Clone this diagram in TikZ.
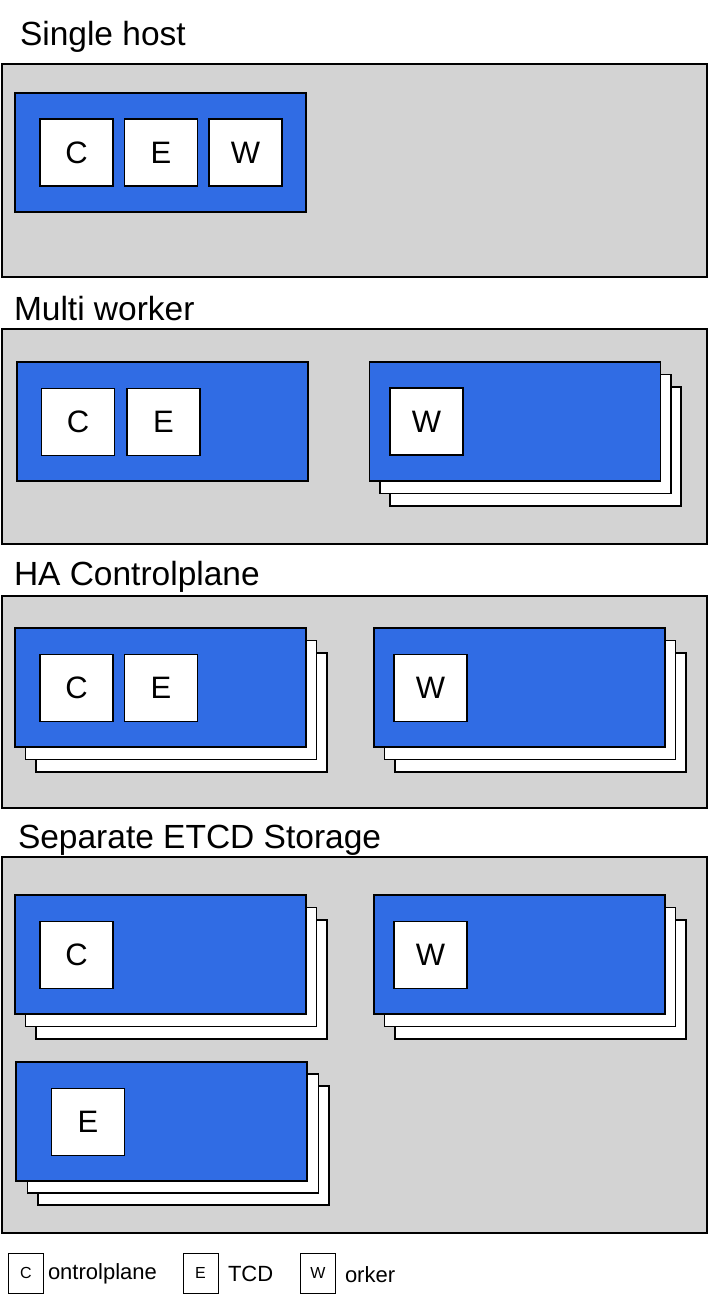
\documentclass[tikz,border=0pt]{standalone}
\usepackage{fontspec}
\setmainfont{Liberation Sans}
\definecolor{hostgray}{RGB}{211,211,211}
\definecolor{nodeblue}{RGB}{48,108,228}
\tikzset{
  every node/.style={inner sep=0pt, outer sep=0pt},
  hostbox/.style={draw=black, fill=hostgray, line width=1.2pt, anchor=north west},
  bluebox/.style={draw=black, fill=nodeblue, line width=1.2pt, anchor=north west, minimum width=291pt, minimum height=119pt},
  backbox/.style={draw=black, fill=white, line width=1.2pt, anchor=north west, minimum width=291pt, minimum height=119pt},
  compbox/.style={draw=black, fill=white, line width=1.2pt, minimum width=73pt, minimum height=67pt, font=\fontsize{31}{31}\selectfont},
  legbox/.style={draw=black, fill=white, line width=1pt, minimum width=35pt, minimum height=40pt, font=\fontsize{16}{16}\selectfont},
  title/.style={anchor=base west, font=\fontsize{33.5}{33.5}\selectfont},
  legtext/.style={anchor=base west, font=\fontsize{22}{22}\selectfont}
}
\begin{document}
\begin{tikzpicture}[x=1pt,y=-1pt]
\useasboundingbox (0,0) rectangle (708,1299);
% Section 1
\node[title] (t1) at (20,45) {Single host};
\node[hostbox, minimum width=705pt, minimum height=213pt] (h1) at (2,64) {};
\node[bluebox] (b1) at (15,93) {};
\node[compbox] (c1) at (76.5,152.5) {C};
\node[compbox] (e1) at (161,152.5) {E};
\node[compbox] (w1) at (245.5,152.5) {W};
% Section 2
\node[title] (t2) at (14,320) {Multi worker};
\node[hostbox, minimum width=705pt, minimum height=215pt] (h2) at (2,329) {};
\node[bluebox] (b2) at (17,362) {};
\node[compbox] (c2) at (78,422) {C};
\node[compbox] (e2) at (163.5,422) {E};
\node[backbox] (w2c) at (390,387) {};
\node[backbox] (w2b) at (380,374.5) {};
\node[bluebox] (w2a) at (369.5,362) {};
\node[compbox] (w2) at (426.5,421.5) {W};
% Section 3
\node[title] (t3) at (14,585) {HA Controlplane};
\node[hostbox, minimum width=705pt, minimum height=212pt] (h3) at (2,596) {};
\node[backbox] (b3c) at (36,653) {};
\node[backbox] (b3b) at (25.5,640.5) {};
\node[bluebox] (b3a) at (15,628) {};
\node[compbox] (c3) at (76.5,688) {C};
\node[compbox] (e3) at (161,688) {E};
\node[backbox] (w3c) at (395,653) {};
\node[backbox] (w3b) at (384.5,640.5) {};
\node[bluebox] (w3a) at (374,628) {};
\node[compbox] (w3) at (430.5,688) {W};
% Section 4
\node[title] (t4) at (18,848) {Separate ETCD Storage};
\node[hostbox, minimum width=705pt, minimum height=376pt] (h4) at (2,857) {};
\node[backbox] (b4c) at (36,920) {};
\node[backbox] (b4b) at (25.5,907.5) {};
\node[bluebox] (b4a) at (15,895) {};
\node[compbox] (c4) at (76.5,955) {C};
\node[backbox] (w4c) at (395,920) {};
\node[backbox] (w4b) at (384.5,907.5) {};
\node[bluebox] (w4a) at (374,895) {};
\node[compbox] (w4) at (430.5,955) {W};
\node[backbox] (e4c) at (38,1086) {};
\node[backbox] (e4b) at (27.5,1074) {};
\node[bluebox] (e4a) at (16,1062) {};
\node[compbox] (e4) at (88,1122) {E};
% Legend
\node[legbox] (lc) at (26,1273) {C};
\node[legtext] (lct) at (48,1279) {ontrolplane};
\node[legbox] (le) at (200.5,1273) {E};
\node[legtext] (let) at (228,1281) {TCD};
\node[legbox] (lw) at (318,1273) {W};
\node[legtext] (lwt) at (345,1282) {orker};
\end{tikzpicture}
\end{document}
